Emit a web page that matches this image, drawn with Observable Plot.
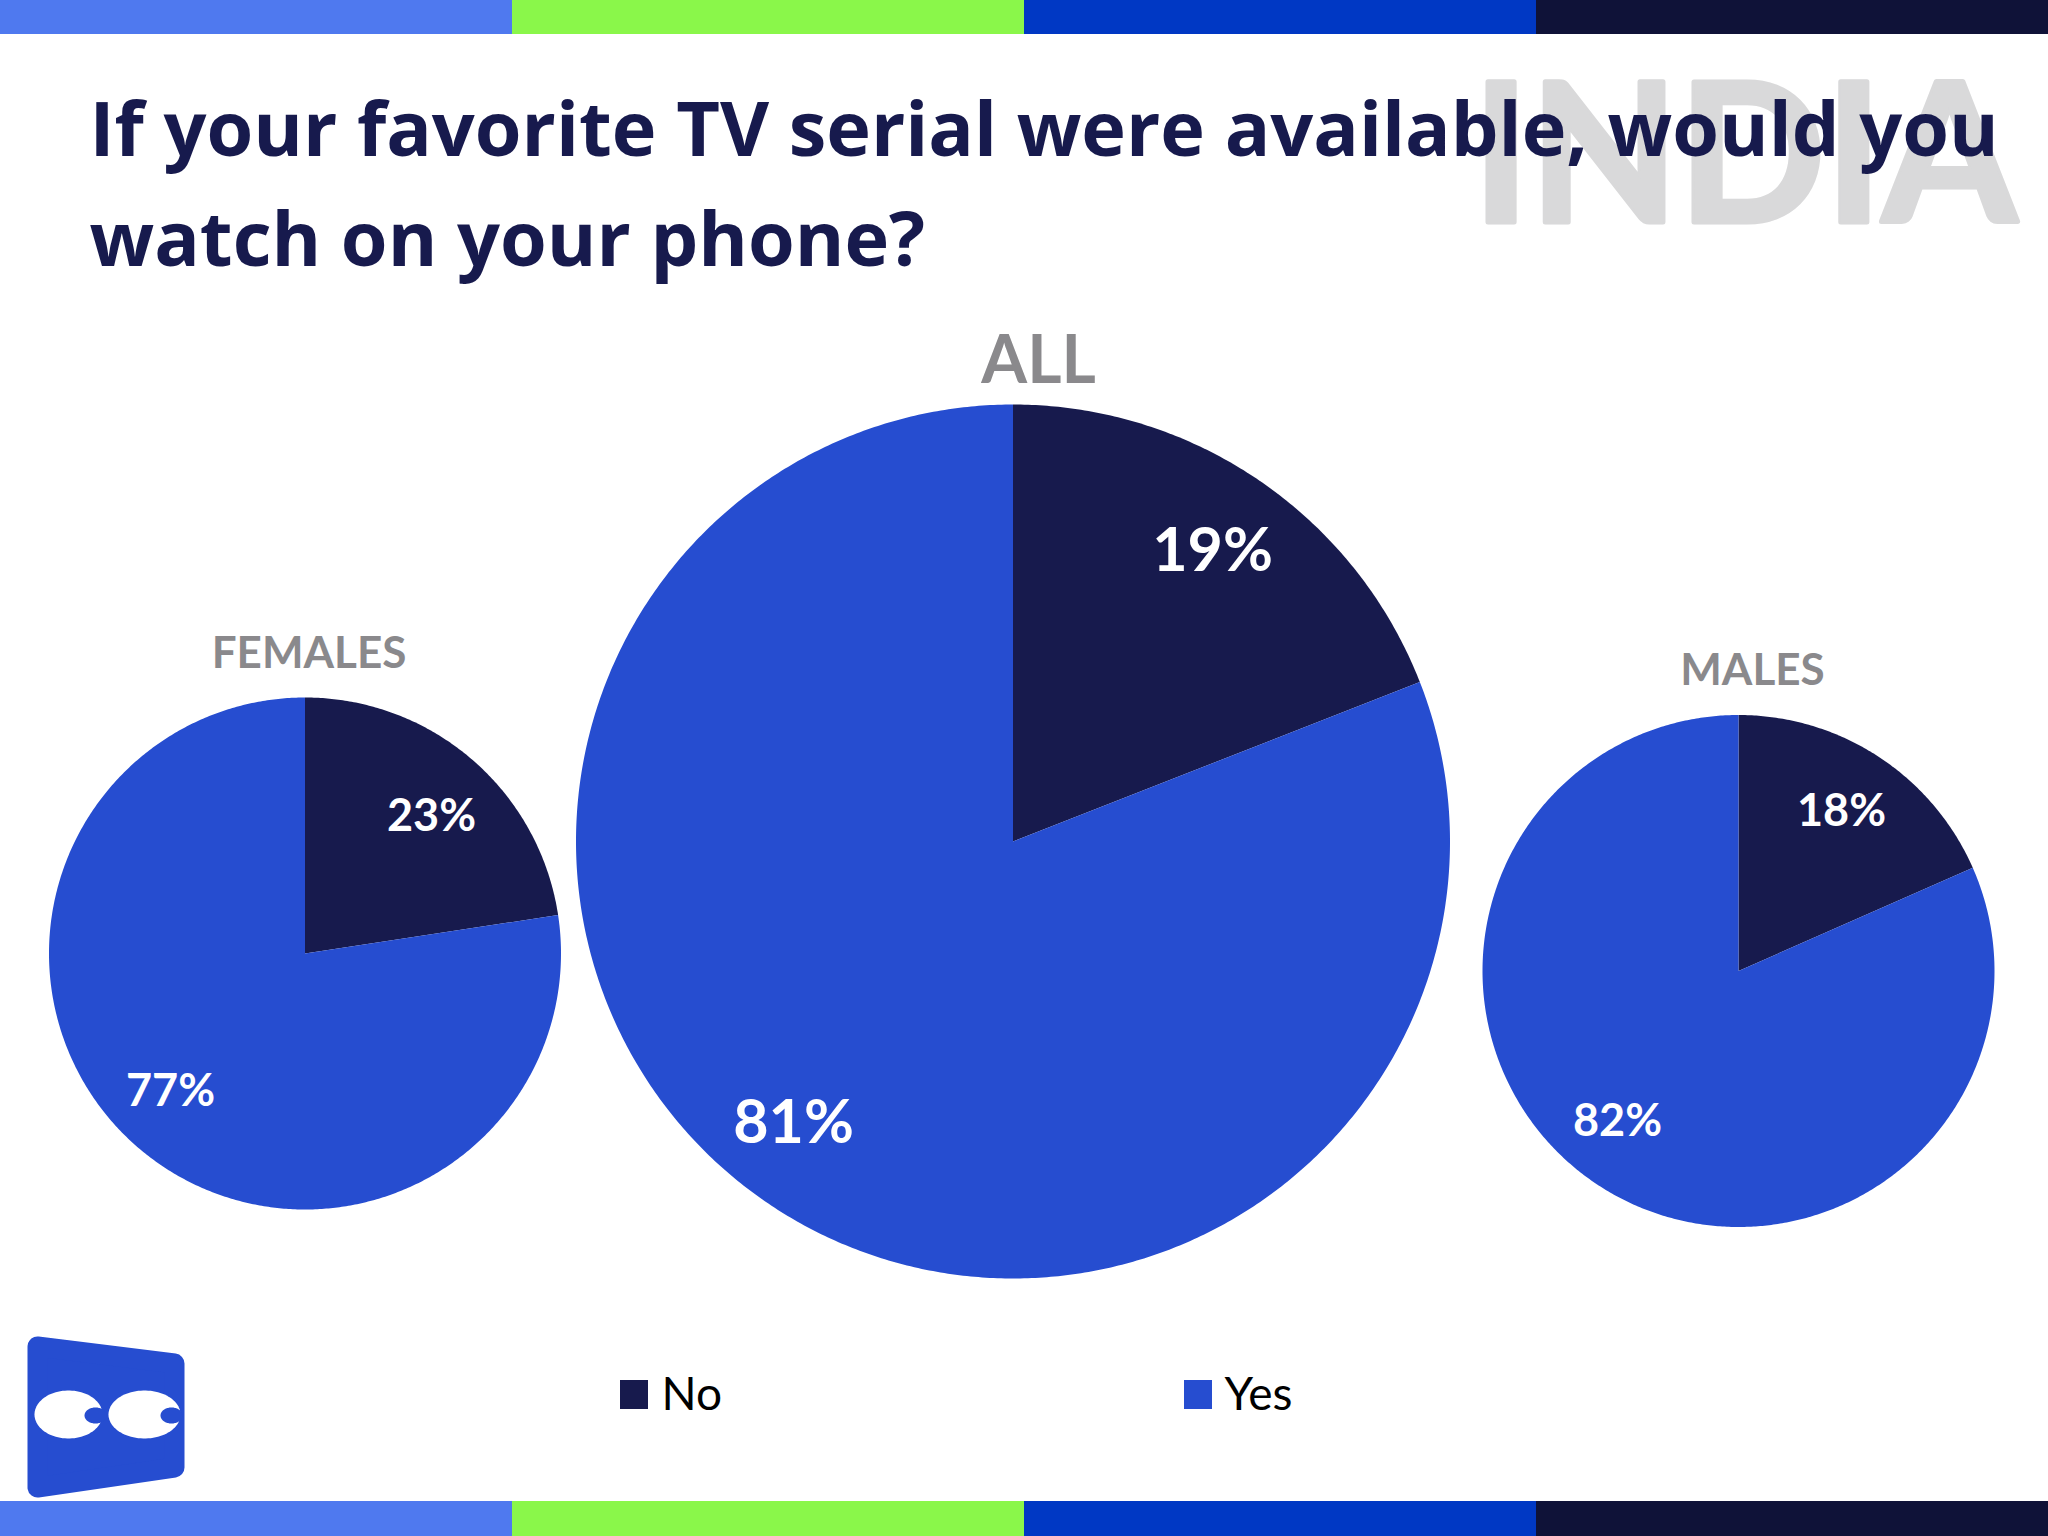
<!DOCTYPE html>
<html>
<head>
<meta charset="utf-8">
<script src="https://cdn.jsdelivr.net/npm/d3@7"></script>
<script src="https://cdn.jsdelivr.net/npm/@observablehq/plot@0.6"></script>
<style>
html,body{margin:0;padding:0;background:#fff;overflow:hidden}
svg{display:block}
</style>
</head>
<body>
<div id="chart"></div>
<script>
// Data
const groups = ["ALL", "FEMALES", "MALES"];
const answers = ["No", "Yes"];
const noShare = [19.05, 22.6, 18.4];
const titleLines = ["If your favorite TV serial were available, would you", "watch on your phone?"];
const watermark = "INDIA";

// Styles
const answerColor = {No: "#171a4d", Yes: "#264dd0"};
const bandColors = ["#4f79ef", "#8af74a", "#0038c4", "#0f1238"];
const navy = "#171a4d", grey = "#8a898c", font = "Lato, sans-serif", heavyFont = "'Open Sans', sans-serif";

// Layout (page pixels)
const layout = {
  ALL:     {cx: 1012.5, cy: 841,   r: 437, head: [1038, 382, 66], no: [1212, 570, 61],  yes: [793, 1142, 61]},
  FEMALES: {cx: 304.5,  cy: 953,   r: 256, head: [308.5, 667, 44], no: [431, 830, 45],  yes: [170, 1105, 45]},
  MALES:   {cx: 1738,   cy: 970.5, r: 256, head: [1752, 684, 44], no: [1841, 825, 45], yes: [1617, 1135, 45]}
};

const table = groups.map((group, i) => ({group, No: noShare[i], Yes: 100 - noShare[i], ...layout[group]}));

// One closed outline per slice: hub, then the rim from its start angle to its end angle
function sliceOutlines() {
  const out = [];
  for (const t of table) {
    let start = 0;
    for (const answer of answers) {
      const end = start + t[answer] / 100 * 2 * Math.PI;
      const key = t.group + answer;
      out.push({key, answer, x: t.cx, y: t.cy});
      const steps = Math.ceil((end - start) * 180 / Math.PI * 2);
      for (let s = 0; s <= steps; ++s) {
        const a = start + (end - start) * s / steps;
        out.push({key, answer, x: t.cx + t.r * Math.sin(a), y: t.cy - t.r * Math.cos(a)});
      }
      out.push({key, answer, x: t.cx, y: t.cy});
      start = end;
    }
  }
  return out;
}

function ellipse(key, cx, cy, rx, ry, color) {
  return d3.range(0, 361, 4).map(a => ({key, color,
    x: cx + rx * Math.cos(a * Math.PI / 180), y: cy + ry * Math.sin(a * Math.PI / 180)}));
}

const logoBody = [[37, 1346], [174, 1363], [174, 1467], [37, 1487], [37, 1346]].map(([x, y]) => ({x, y}));
const logoEyes = [
  ...ellipse("e1", 68, 1414, 34, 24, "#fff"),
  ...ellipse("e2", 144, 1414, 36, 24, "#fff"),
  ...ellipse("p1", 95, 1415, 11, 8, "#264dd0"),
  ...ellipse("p2", 171, 1415, 11, 8, "#264dd0")
];

const bands = bandColors.flatMap((fill, i) => [
  {fill, x1: i * 512, x2: (i + 1) * 512, y1: 0, y2: 34},
  {fill, x1: i * 512, x2: (i + 1) * 512, y1: 1501, y2: 1536}
]);

const legend = [
  {answer: "No", x1: 620, x2: 648, tx: 661},
  {answer: "Yes", x1: 1184, x2: 1212, tx: 1224}
];

function labelMark(rows, fill, fontWeight) {
  return Plot.text(rows, {
    x: "x", y: "y", text: "text", fontSize: "size", fill, fontWeight,
    fontFamily: font, textAnchor: "middle", lineAnchor: "bottom"
  });
}
const row = (text, [x, y, size]) => ({text, x, y, size});
const pct = v => `${Math.round(v)}%`;

const chart = Plot.plot({
  width: 2048, height: 1536,
  margin: 0,
  style: {background: "#fff"},
  x: {domain: [0, 2048], range: [0, 2048], axis: null},
  y: {domain: [0, 1536], range: [0, 1536], axis: null},
  color: {type: "identity"},
  marks: [
    Plot.rect(bands, {x1: "x1", x2: "x2", y1: "y1", y2: "y2", fill: "fill"}),
    Plot.text([watermark], {
      x: 2016, y: 221, text: d => d, fontSize: 193, fontWeight: 700, fontFamily: font,
      fill: "#d9d9da", stroke: "#d9d9da", strokeWidth: 5, textAnchor: "end", lineAnchor: "bottom"
    }),
    Plot.text(titleLines, {
      x: 89, y: (d, i) => 155 + i * 110, text: d => d, fontSize: 75.6, fontWeight: 700,
      fontFamily: heavyFont, fill: navy, textAnchor: "start", lineAnchor: "bottom"
    }),
    labelMark(table.map(t => row(t.group, t.head)), grey, 700),
    Plot.line(sliceOutlines(), {
      x: "x", y: "y", z: "key", fill: d => answerColor[d.answer], stroke: null, curve: "linear"
    }),
    labelMark(table.flatMap(t => [row(pct(t.No), t.no), row(pct(t.Yes), t.yes)]), "#fff", 700),
    Plot.rect(legend, {
      x1: "x1", x2: "x2", y1: () => 1380, y2: () => 1409, fill: d => answerColor[d.answer]
    }),
    Plot.text(legend, {
      x: "tx", y: () => 1409, text: "answer", fontSize: 46, fontFamily: font,
      fill: "#000", textAnchor: "start", lineAnchor: "bottom"
    }),
    Plot.line(logoBody, {
      x: "x", y: "y", fill: "#264dd0", stroke: "#264dd0", strokeWidth: 20, strokeLinejoin: "round"
    }),
    Plot.line(logoEyes, {x: "x", y: "y", z: "key", fill: "color", stroke: null})
  ]
});
document.getElementById("chart").append(chart);
</script>
</body>
</html>
